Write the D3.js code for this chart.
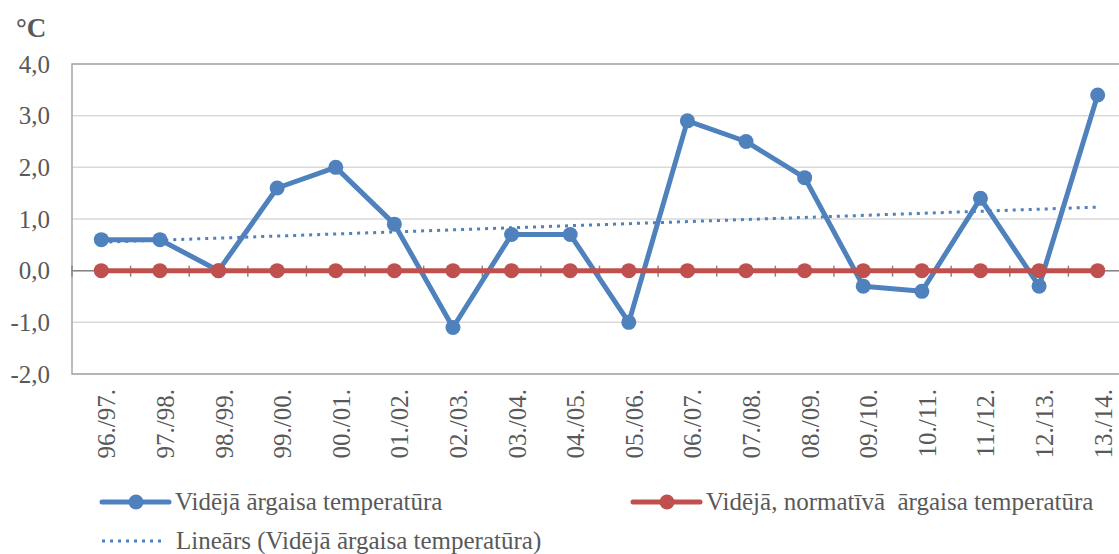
<!DOCTYPE html>
<html>
<head>
<meta charset="utf-8">
<script src="https://cdn.jsdelivr.net/npm/d3@7"></script>
<style>
  body { margin: 0; background: #fff; }
</style>
</head>
<body>
<div id="chart"></div>
<script>
// chart data
const seasons = ['96./97.', '97./98.', '98./99.', '99./00.', '00./01.', '01./02.', '02./03.', '03./04.', '04./05.',
    '05./06.', '06./07.', '07./08.', '08./09.', '09./10.', '10./11.', '11./12.', '12./13.', '13./14.'];
const avgTemp = [0.6, 0.6, 0.0, 1.6, 2.0, 0.9, -1.1, 0.7, 0.7, -1.0, 2.9, 2.5, 1.8, -0.3, -0.4, 1.4, -0.3, 3.4];
const normTemp = [0, 0, 0, 0, 0, 0, 0, 0, 0, 0, 0, 0, 0, 0, 0, 0, 0, 0];
// trend line endpoints (first and last season)
const trendEnds = [0.55, 1.23];
const yTicks = [-2, -1, 0, 1, 2, 3, 4];
const legendNames = ['Vidējā ārgaisa temperatūra', 'Vidējā, normatīvā  ārgaisa temperatūra',
    'Lineārs (Vidējā ārgaisa temperatūra)'];

const width = 1119, height = 554;
const blue = '#4f81bd', red = '#c0504d';
const serif = '"Liberation Serif", Tinos, "Times New Roman", "DejaVu Serif", serif';
const plot = { left: 72, right: 1127, top: 64, bottom: 374 };

const svg = d3.select('#chart').append('svg')
    .attr('width', width)
    .attr('height', height)
    .style('font-family', serif);

const x = d3.scaleBand()
    .domain(seasons)
    .range([plot.left, plot.right]);

const y = d3.scaleLinear()
    .domain([-2, 4])
    .range([plot.bottom, plot.top]);

const cx = d => x(d) + x.bandwidth() / 2;

// gridlines
svg.append('g')
    .selectAll('line')
    .data(yTicks)
    .join('line')
    .attr('x1', plot.left).attr('x2', plot.right)
    .attr('y1', d => y(d)).attr('y2', d => y(d))
    .attr('stroke', '#d9d9d9')
    .attr('stroke-width', 1.5);

// plot border
svg.append('rect')
    .attr('x', plot.left).attr('y', plot.top)
    .attr('width', plot.right - plot.left).attr('height', plot.bottom - plot.top)
    .attr('fill', 'none')
    .attr('stroke', '#a6a6a6')
    .attr('stroke-width', 1.5);

// y axis labels
const yAxis = d3.axisLeft(y)
    .tickValues(yTicks)
    .tickSize(0)
    .tickPadding(22)
    .tickFormat(d => d3.format('.1f')(d).replace('.', ',').replace('−', '-'));
svg.append('g')
    .attr('transform', `translate(${plot.left},0)`)
    .call(yAxis)
    .attr('font-family', null)
    .call(g => g.select('.domain').remove())
    .selectAll('text')
    .attr('dy', '0.33em')
    .style('font-size', '25px')
    .style('font-family', serif)
    .attr('fill', '#595959');

// zero axis with boundary ticks
svg.append('line')
    .attr('x1', plot.left).attr('x2', plot.right)
    .attr('y1', y(0)).attr('y2', y(0))
    .attr('stroke', '#868686')
    .attr('stroke-width', 1.5);
svg.append('g')
    .selectAll('line')
    .data(seasons)
    .join('line')
    .attr('x1', d => x(d)).attr('x2', d => x(d))
    .attr('y1', y(0) - 5).attr('y2', y(0) + 6)
    .attr('stroke', '#868686')
    .attr('stroke-width', 1.5);

// x labels, rotated
svg.append('g')
    .selectAll('text')
    .data(seasons)
    .join('text')
    .attr('transform', d => `translate(${cx(d) + 14},${plot.bottom + 15}) rotate(-90)`)
    .attr('text-anchor', 'end')
    .attr('fill', '#595959')
    .style('font-family', serif)
    .style('font-size', '25px')
    .text(d => d);

// unit label
svg.append('text')
    .attr('x', 16).attr('y', 37)
    .attr('fill', '#595959')
    .style('font-family', serif)
    .style('font-size', '27px')
    .style('font-weight', 'bold')
    .text('°C');

// trend line
svg.append('line')
    .attr('x1', cx(seasons[0])).attr('x2', cx(seasons[seasons.length - 1]))
    .attr('y1', y(trendEnds[0])).attr('y2', y(trendEnds[1]))
    .attr('stroke', blue)
    .attr('stroke-width', 3)
    .attr('stroke-dasharray', '3,5');

const line = d3.line()
    .x((d, i) => cx(seasons[i]))
    .y(d => y(d));

function addSeries(values, color) {
    svg.append('path')
        .datum(values)
        .attr('d', line)
        .attr('fill', 'none')
        .attr('stroke', color)
        .attr('stroke-width', 5)
        .attr('stroke-linejoin', 'round');
    svg.append('g')
        .selectAll('circle')
        .data(values)
        .join('circle')
        .attr('cx', (d, i) => cx(seasons[i]))
        .attr('cy', d => y(d))
        .attr('r', 7.5)
        .attr('fill', color);
}

addSeries(avgTemp, blue);
addSeries(normTemp, red);

// legend
const legend = svg.append('g');
const legendItems = [
    { name: legendNames[0], color: blue, x: 102, y: 502, marker: true },
    { name: legendNames[1], color: red, x: 633, y: 502, marker: true },
    { name: legendNames[2], color: blue, x: 102, y: 541, marker: false }
];
legendItems.forEach(item => {
    if (item.marker) {
        legend.append('line')
            .attr('x1', item.x).attr('x2', item.x + 67)
            .attr('y1', item.y).attr('y2', item.y)
            .attr('stroke', item.color)
            .attr('stroke-width', 5)
            .attr('stroke-linecap', 'round');
        legend.append('circle')
            .attr('cx', item.x + 34).attr('cy', item.y)
            .attr('r', 7.5)
            .attr('fill', item.color);
    } else {
        legend.append('line')
            .attr('x1', item.x).attr('x2', item.x + 62)
            .attr('y1', item.y).attr('y2', item.y)
            .attr('stroke', item.color)
            .attr('stroke-width', 3)
            .attr('stroke-dasharray', '3,5');
    }
    legend.append('text')
        .attr('x', item.x + (item.marker ? 73 : 74))
        .attr('y', item.y + 8)
        .attr('fill', '#595959')
        .style('font-family', serif)
        .style('font-size', '25px')
        .style('white-space', 'pre')
        .text(item.name);
});
</script>
</body>
</html>
